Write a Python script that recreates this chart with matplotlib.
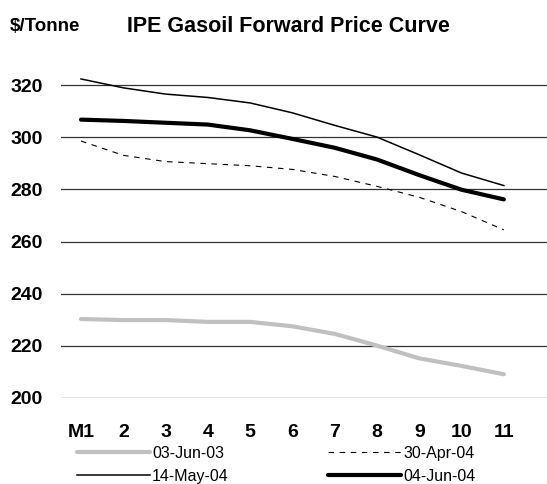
import matplotlib
matplotlib.use("Agg")
import matplotlib.pyplot as plt

# Forward curve data ($/tonne) by contract month
months = ["M1", "2", "3", "4", "5", "6", "7", "8", "9", "10", "11"]
jun03 = [230.3, 229.9, 229.9, 229.2, 229.2, 227.5, 224.6, 220.1, 215.2, 212.3, 209.1]
apr04 = [298.6, 293.1, 290.7, 289.9, 289.1, 287.7, 285.0, 281.2, 277.0, 271.5, 264.5]
may04 = [322.4, 319.0, 316.6, 315.3, 313.2, 309.4, 304.6, 300.1, 293.3, 286.3, 281.5]
jun04 = [306.8, 306.3, 305.6, 304.9, 302.7, 299.4, 296.0, 291.5, 285.5, 279.9, 276.2]
series_labels = ["03-Jun-03", "30-Apr-04", "14-May-04", "04-Jun-04"]
y_ticks = [200, 220, 240, 260, 280, 300, 320]

plt.rcParams["font.family"] = ["Liberation Sans", "DejaVu Sans"]

fig = plt.figure(figsize=(5.47, 4.84), dpi=100)
ax = fig.add_axes([0.1115, 0.1777, 0.8885, 0.727])

x = list(range(1, len(months) + 1))
l1, = ax.plot(x, jun03, color="#c0c0c0", lw=3.0, solid_capstyle="round")
l2, = ax.plot(x, apr04, color="black", lw=0.8, dashes=(5, 5))
l3, = ax.plot(x, may04, color="black", lw=1.1)
l4, = ax.plot(x, jun04, color="black", lw=3.0, solid_capstyle="round")

ax.set_xlim(0.527, 12.02)
ax.set_ylim(200, 335)
ax.set_yticks(y_ticks)
ax.set_xticks(x)
ax.set_xticklabels(months)
ax.grid(axis="y", color="#333333", lw=0.9)
ax.set_axisbelow(True)
for s in ax.spines.values():
    s.set_visible(False)
ax.tick_params(length=0, labelsize=14)
ax.tick_params(axis="y", pad=13)
ax.tick_params(axis="x", pad=19)
for lab in ax.get_xticklabels() + ax.get_yticklabels():
    lab.set_fontweight("bold")

fig.text(0.018, 0.946, "$/Tonne", fontsize=13.5, fontweight="bold", va="center")
fig.text(0.232, 0.946, "IPE Gasoil Forward Price Curve", fontsize=15.5,
         fontweight="bold", va="center")

leg = fig.legend([l1, l3, l2, l4],
                 [series_labels[0], series_labels[2], series_labels[1], series_labels[3]],
                 ncol=2, loc="upper left", bbox_to_anchor=(0.141, 0.079),
                 borderpad=0, borderaxespad=0,
                 frameon=False, fontsize=11.5, handlelength=4.55, handletextpad=0.15,
                 columnspacing=6.2, labelspacing=0.5)

fig.savefig("out.png", dpi=100)
